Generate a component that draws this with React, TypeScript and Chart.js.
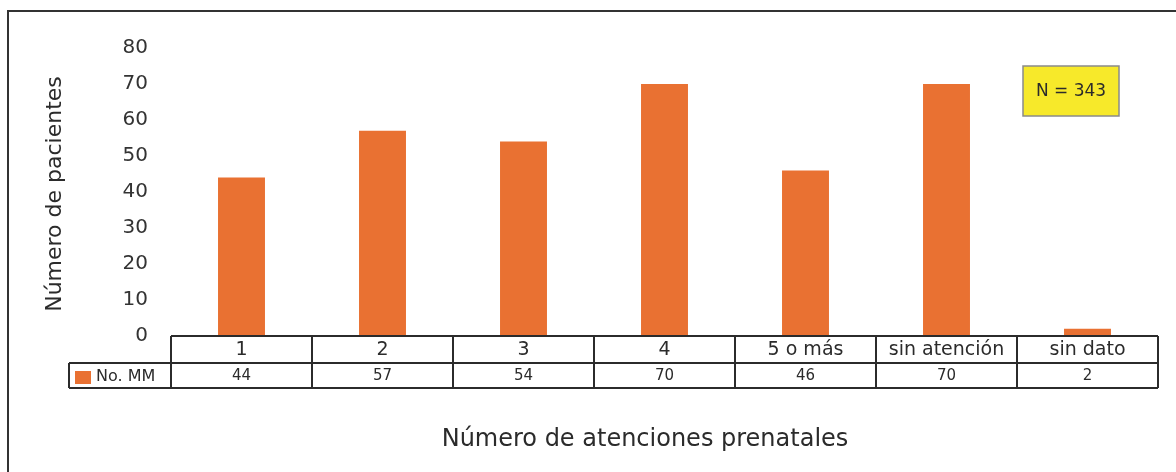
import React, { useEffect, useRef } from "react";
import { Chart, registerables } from "chart.js";

Chart.register(...registerables);

const categories = ["1", "2", "3", "4", "5 o más", "sin atención", "sin dato"];
const seriesLabel = "No. MM";
const values = [44, 57, 54, 70, 46, 70, 2];
const yTitle = "Número de pacientes";
const xTitle = "Número de atenciones prenatales";
const noteText = "N = 343";

const BAR = "#E97132";
const INK = "#2b2b2b";
const FONT = "'DejaVu Sans', sans-serif";

const tablePlugin = {
  id: "tablePlugin",
  afterDraw(chart: any) {
    const { ctx, chartArea, scales } = chart;
    const x = scales.x;
    const left = chartArea.left;
    const right = chartArea.right;
    const top = chartArea.bottom;
    const rowH1 = 27;
    const rowH2 = 25;
    const mid = top + rowH1;
    const bot = mid + rowH2;
    const legendLeft = 69;
    ctx.save();
    // outer frame
    ctx.strokeStyle = "#333";
    ctx.lineWidth = 2;
    ctx.beginPath();
    ctx.moveTo(8, 472);
    ctx.lineTo(8, 11);
    ctx.lineTo(1176, 11);
    ctx.stroke();

    // table lines
    ctx.strokeStyle = INK;
    ctx.lineWidth = 2;
    ctx.beginPath();
    ctx.moveTo(left, top);
    ctx.lineTo(right, top);
    ctx.moveTo(legendLeft, mid);
    ctx.lineTo(right, mid);
    ctx.moveTo(legendLeft, bot);
    ctx.lineTo(right, bot);
    ctx.moveTo(legendLeft, mid);
    ctx.lineTo(legendLeft, bot);
    const n = categories.length;
    for (let i = 0; i <= n; i++) {
      let bx: number;
      if (i === 0) bx = left;
      else if (i === n) bx = right;
      else bx = (x.getPixelForValue(i - 1) + x.getPixelForValue(i)) / 2;
      ctx.moveTo(bx, top);
      ctx.lineTo(bx, bot);
    }
    ctx.stroke();

    ctx.fillStyle = INK;
    ctx.textAlign = "center";
    ctx.textBaseline = "middle";
    for (let i = 0; i < n; i++) {
      const cx = x.getPixelForValue(i);
      ctx.font = `19px ${FONT}`;
      ctx.fillText(categories[i], cx, top + rowH1 / 2 + 1);
      ctx.font = `15px ${FONT}`;
      ctx.fillText(String(values[i]), cx, mid + rowH2 / 2 + 1);
    }
    // legend cell
    ctx.fillStyle = BAR;
    ctx.fillRect(75, mid + 8, 16, 13);
    ctx.fillStyle = INK;
    ctx.textAlign = "left";
    ctx.font = `16px ${FONT}`;
    ctx.fillText(seriesLabel, 96, mid + rowH2 / 2 + 1);

    // axis titles
    ctx.font = `24px ${FONT}`;
    ctx.textAlign = "center";
    ctx.fillText(xTitle, 645, 440);
    ctx.font = `22px ${FONT}`;
    ctx.save();
    ctx.translate(55, 194);
    ctx.rotate(-Math.PI / 2);
    ctx.fillText(yTitle, 0, 0);
    ctx.restore();

    // N box
    ctx.fillStyle = "#F7E92A";
    ctx.fillRect(1023, 66, 96, 50);
    ctx.strokeStyle = "#8a8a8a";
    ctx.lineWidth = 1.5;
    ctx.strokeRect(1023, 66, 96, 50);
    ctx.fillStyle = INK;
    ctx.font = `17px ${FONT}`;
    ctx.fillText(noteText, 1071, 92);
    ctx.restore();
  },
};

export default function App() {
  const ref = useRef<HTMLCanvasElement>(null);
  useEffect(() => {
    if (!ref.current) return;
    const chart = new Chart(ref.current, {
      type: "bar",
      data: {
        labels: categories,
        datasets: [
          {
            label: seriesLabel,
            data: values,
            backgroundColor: BAR,
            categoryPercentage: 1,
            barPercentage: 0.333,
          },
        ],
      },
      options: {
        animation: false,
        responsive: false,
        layout: { padding: { top: 48, right: 18, bottom: 136, left: 0 } },
        plugins: { legend: { display: false }, tooltip: { enabled: false } },
        scales: {
          x: { display: false },
          y: {
            min: 0,
            max: 80,
            afterFit: (s: any) => {
              s.width = 171;
            },
            grid: { display: false, drawTicks: false },
            border: { display: false },
            ticks: {
              stepSize: 10,
              padding: 23,
              color: "#333",
              font: { family: FONT, size: 20 },
            },
          },
        },
      },
      plugins: [tablePlugin],
    });
    return () => chart.destroy();
  }, []);
  return (
    <div style={{ position: "fixed", left: 0, top: 0, width: 1176, height: 472, background: "#fff" }}>
      <canvas ref={ref} width={1176} height={472} style={{ display: "block" }} />
    </div>
  );
}
